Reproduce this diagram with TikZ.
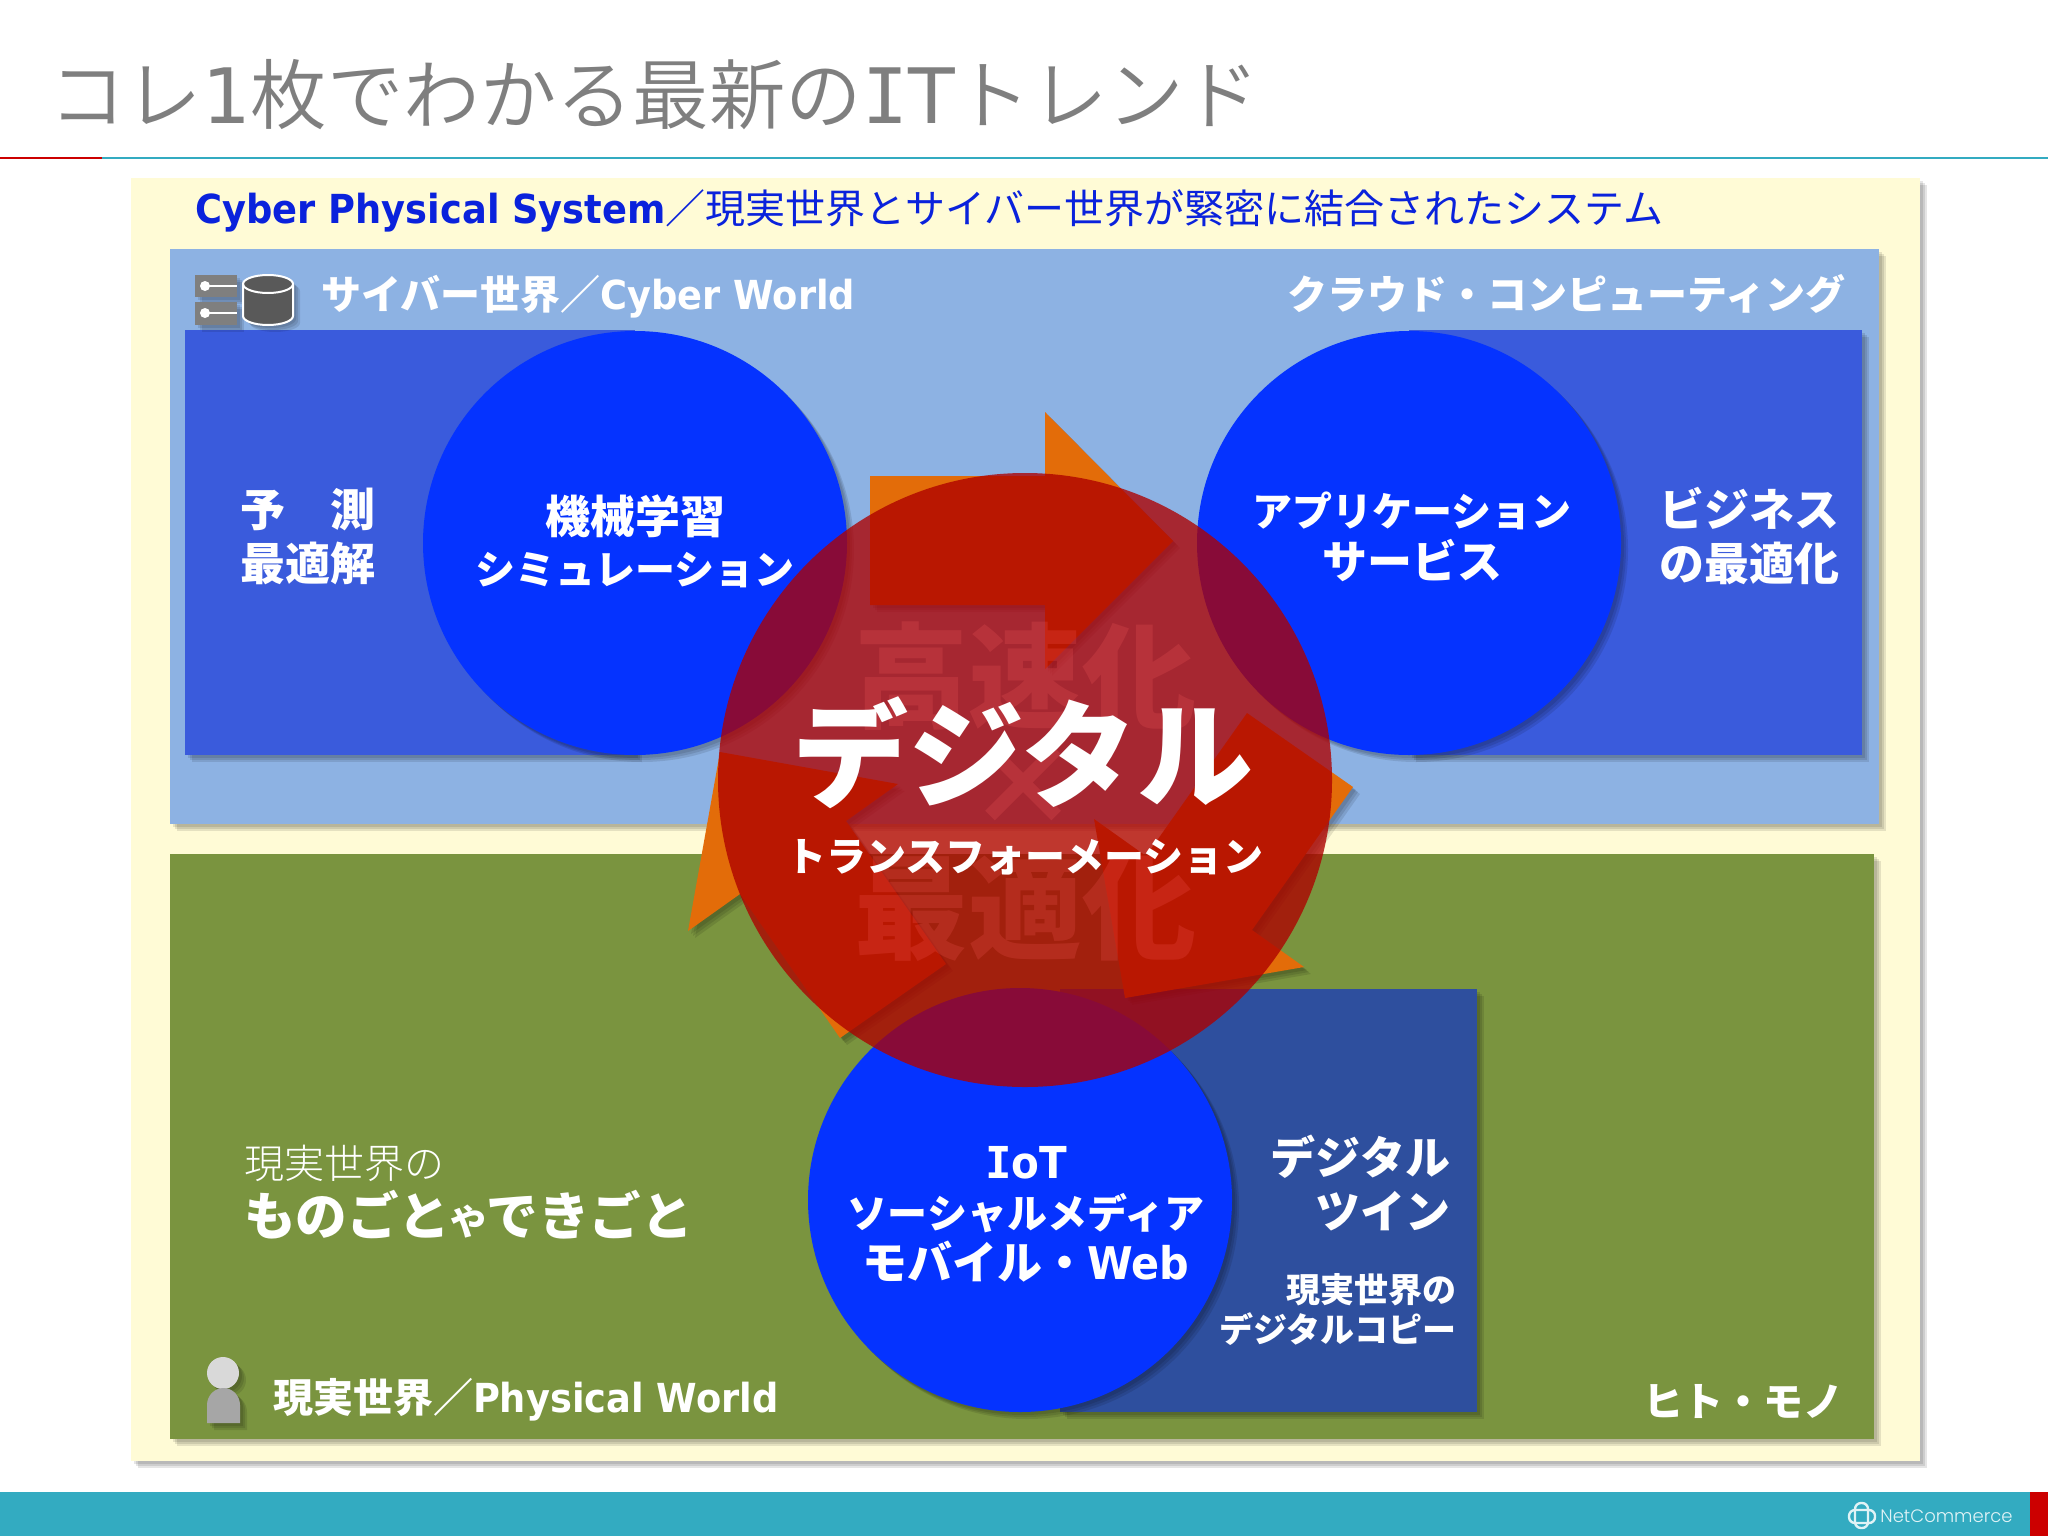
\documentclass[tikz,border=0pt]{standalone}
\usepackage{fontspec}
\setmainfont{Noto Sans CJK JP}
\newfontfamily\jlight{Noto Sans CJK JP Light}
\newfontfamily\jdemi{Noto Sans CJK JP DemiLight}
\newfontfamily\lat[FakeStretch=0.92]{DejaVu Sans}
\newfontfamily\latplain{DejaVu Sans}
\newfontfamily\latmono{DejaVu Sans Mono}
\newfontfamily\logofont{Poppins Light}
\definecolor{yellowbg}{HTML}{FFFBD6}
\definecolor{skyblue}{HTML}{8DB2E3}
\definecolor{panelblue}{HTML}{3A5BDC}
\definecolor{deepblue}{HTML}{2E4F9E}
\definecolor{circblue}{HTML}{0533FF}
\definecolor{leaf}{HTML}{7A943F}
\definecolor{orangearr}{HTML}{E36C09}
\definecolor{redc}{HTML}{AE0000}
\definecolor{tealbar}{HTML}{33ABC1}
\definecolor{titlegrey}{HTML}{7F7F7F}
\definecolor{headblue}{HTML}{0A22DC}
\definecolor{ghostred}{HTML}{FF6060}
\tikzset{
  softshadow/.style={
    preaction={fill=black,fill opacity=.10,draw=none,transform canvas={shift={(1.5pt,-1.5pt)}}},
    preaction={fill=black,fill opacity=.10,draw=none,transform canvas={shift={(2.5pt,-2.5pt)}}},
    preaction={fill=black,fill opacity=.10,draw=none,transform canvas={shift={(3.5pt,-3.5pt)}}}},
  lbl/.style={inner sep=0pt,outer sep=0pt,text=white,font=\bfseries},
  fs/.style={font=\bfseries\fontsize{#1}{#1}\selectfont},
  ghost/.style={inner sep=0pt,outer sep=0pt,text=ghostred,text opacity=.2,font=\bfseries\fontsize{57}{57}\selectfont},
}
\begin{document}
\begin{tikzpicture}[x=.5pt,y=-.5pt]
\useasboundingbox (0,0) rectangle (2048,1536);
\fill[white] (0,0) rectangle (2048,1536);
% header
\draw[tealbar,line width=1pt] (102,158) -- (2048,158);
\draw[red!80!black,line width=1pt] (0,158) -- (102,158);
\node[inner sep=0pt,anchor=base west,text=titlegrey,font=\jdemi\fontsize{38.2}{38.2}\selectfont] (title) at (49,124) {コレ{\latplain 1}枚でわかる最新の{\latmono I}{\latplain T}トレンド};
% footer
\fill[tealbar] (0,1492) rectangle (2030,1536);
\fill[red!80!black] (2030,1492) rectangle (2048,1536);
\draw[white!85!tealbar,line width=1.2pt,rounded corners=3pt] (1849,1510) rectangle (1875,1523);
\draw[white!85!tealbar,line width=1.2pt,rounded corners=3pt] (1855,1503) rectangle (1868,1528);
\node[inner sep=0pt,anchor=base west,text=white!85!tealbar,font=\logofont\fontsize{9}{9}\selectfont] (logo) at (1880,1522) {NetCommerce};
% panels
\fill[yellowbg,softshadow] (131,178) rectangle (1920,1461);
\fill[skyblue,softshadow] (170,249) rectangle (1879,824);
\fill[leaf,softshadow] (170,854) rectangle (1874,1439);
\fill[panelblue,softshadow] (185,330) rectangle (635,755);
\fill[panelblue,softshadow] (1409,330) rectangle (1862,755);
\fill[deepblue,softshadow] (1060,989) rectangle (1477,1412);
% circles
\fill[circblue,softshadow] (635,543) circle (212);
\fill[circblue,softshadow] (1409,543) circle (212);
\fill[circblue,softshadow] (1020,1200) circle (212);
% arrows
\fill[orangearr,softshadow] (870,476) -- (1045,476) -- (1045,412) -- (1173,541) -- (1045,669) -- (1045,605) -- (870,605) -- cycle;
\fill[orangearr,softshadow] (1353,787) -- (1252,930) -- (1304,967) -- (1125,998) -- (1094,819) -- (1146,856) -- (1247,713) -- cycle;
\fill[orangearr,softshadow] (840,1038) -- (740,894) -- (688,931) -- (720,752) -- (898,784) -- (846,821) -- (946,964) -- cycle;
% central circle
\fill[redc,fill opacity=.78] (1025,780) circle (307);
% icons
\fill[titlegrey,softshadow] (195,275) rectangle (237,297);
\fill[titlegrey,softshadow] (195,302) rectangle (237,325);
\fill[white] (205,286) circle (5);
\fill[white] (205,313) circle (5);
\draw[white,line width=1pt] (205,286) -- (237,286);
\draw[white,line width=1pt] (205,313) -- (237,313);
\path[fill=black!65,draw=white,line width=1pt,softshadow] (243,284) arc[x radius=25,y radius=9,start angle=180,end angle=360] -- (293,316) arc[x radius=25,y radius=9,start angle=0,end angle=180] -- cycle;
\draw[white,line width=1pt] (243,284) arc[x radius=25,y radius=9,start angle=180,end angle=0];
\fill[black!15,softshadow] (223,1373) circle (16);
\fill[gray!70,softshadow] (207,1423) -- (207,1405) arc[x radius=16.5,y radius=17,start angle=180,end angle=360] -- (240,1423) -- cycle;
% ghost words
\node[ghost,anchor=base] (fast) at (1025,719) {高速化};
\node[ghost,anchor=base] (times) at (1023,826) {×};
\node[ghost,anchor=base] (best) at (1025,950) {最適化};
% heading labels
\node[inner sep=0pt,anchor=base west,text=headblue] (cps) at (195,223) {\fontsize{20}{20}\selectfont{\lat\bfseries Cyber Physical System}／現実世界とサイバー世界が緊密に結合されたシステム};
\node[lbl,fs=20,anchor=base west] (cyber) at (321,309) {サイバー世界／{\lat Cyber World}};
\node[lbl,fs=20,anchor=base east] (cloud) at (1845,309) {クラウド・コンピューティング};
\node[lbl,fs=20,anchor=base west] (phys) at (273,1412) {現実世界／{\lat Physical World}};
\node[lbl,fs=20,anchor=base east] (hito) at (1843,1416) {ヒト・モノ};
% upper panel
\node[lbl,fs=22.5,anchor=base] (pred) at (308,526) {予　測};
\node[lbl,fs=22.5,anchor=base] (opt) at (308,580) {最適解};
\node[lbl,fs=22.5,anchor=base] (ml) at (635,533) {機械学習};
\node[lbl,fs=20,anchor=base] (sim) at (635,584) {シミュレーション};
\node[lbl,fs=20,anchor=base] (app) at (1412,526) {アプリケーション};
\node[lbl,fs=22.5,anchor=base] (svc) at (1412,578) {サービス};
\node[lbl,fs=22.5,anchor=base] (biz) at (1749,526) {ビジネス};
\node[lbl,fs=22.5,anchor=base] (bizopt) at (1749,580) {の最適化};
% center
\node[lbl,fs=58,anchor=base] (dx) at (1023,798) {デジタル};
\node[lbl,fs=20,anchor=base] (dxt) at (1025,871) {トランスフォーメーション};
% lower panel
\node[inner sep=0pt,text=white,anchor=base west,font=\jlight\fontsize{20}{20}\selectfont] (real) at (244,1178) {現実世界の};
\node[lbl,fs=25.8,anchor=base west] (things) at (244,1235) {ものごと{\fontsize{18}{18}\selectfont や}できごと};
\node[lbl,fs=22,anchor=base] (iot) at (1026,1178) {{\latmono I}{\lat oT}};
\node[lbl,fs=20,anchor=base] (sns) at (1026,1228) {ソーシャルメディア};
\node[lbl,fs=22.5,anchor=base] (mob) at (1026,1279) {モバイル・{\lat Web}};
\node[lbl,fs=22.5,anchor=base east] (dt) at (1450,1174) {デジタル};
\node[lbl,fs=22.5,anchor=base east] (twin) at (1450,1228) {ツイン};
\node[lbl,fs=17,anchor=base east] (rw) at (1456,1302) {現実世界の};
\node[lbl,fs=17,anchor=base east] (copy) at (1456,1342) {デジタルコピー};
\end{tikzpicture}
\end{document}
